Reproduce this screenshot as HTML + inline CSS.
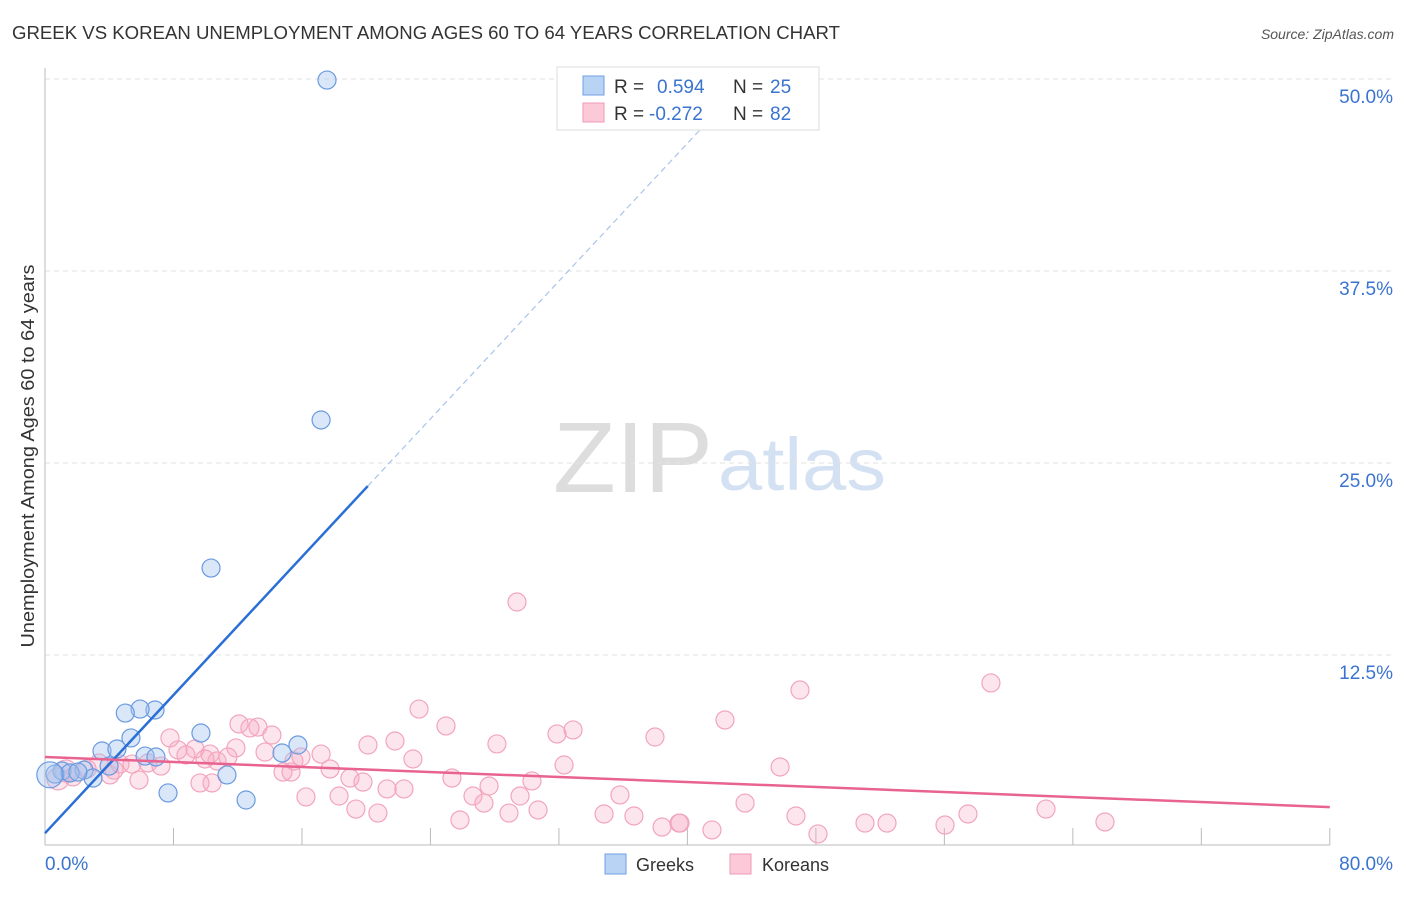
<!DOCTYPE html>
<html><head><meta charset="utf-8"><style>
body{margin:0;background:#fff;font-family:"Liberation Sans",sans-serif}
svg text{font-family:"Liberation Sans",sans-serif}
</style></head><body>
<svg id="c" width="1406" height="892">
<text x="12" y="39" font-size="18" fill="#333" textLength="828" lengthAdjust="spacingAndGlyphs">GREEK VS KOREAN UNEMPLOYMENT AMONG AGES 60 TO 64 YEARS CORRELATION CHART</text>
<text x="1394" y="39" font-size="14" fill="#555" font-style="italic" text-anchor="end">Source: ZipAtlas.com</text>
<text x="34" y="456" font-size="18" fill="#333" text-anchor="middle" textLength="383" lengthAdjust="spacingAndGlyphs" transform="rotate(-90 34 456)">Unemployment Among Ages 60 to 64 years</text>
<text x="553" y="492" font-size="100" fill="#ddd" font-family="Liberation Serif" textLength="160" lengthAdjust="spacingAndGlyphs">ZIP</text>
<text x="718" y="490" font-size="74" fill="#d4e1f3" textLength="168" lengthAdjust="spacingAndGlyphs">atlas</text>
<g id="grid"></g><g id="pts"></g><g id="lines"></g>
<g>
<rect x="557" y="67" width="262" height="63" fill="#fff" stroke="#ddd"/>
<rect x="583" y="76" width="21" height="19" fill="#b9d3f5" stroke="#6f9fe0"/>
<rect x="583" y="103" width="21" height="19" fill="#fcc9d8" stroke="#f09ab4"/>
<text x="614" y="93" font-size="19" fill="#333">R = </text><text x="657" y="93" font-size="19" fill="#3a74d0">0.594</text>
<text x="733" y="93" font-size="19" fill="#333">N = </text><text x="770" y="93" font-size="19" fill="#3a74d0">25</text>
<text x="614" y="120" font-size="19" fill="#333">R = </text><text x="649" y="120" font-size="19" fill="#3a74d0">-0.272</text>
<text x="733" y="120" font-size="19" fill="#333">N = </text><text x="770" y="120" font-size="19" fill="#3a74d0">82</text>
</g>
<g>
<rect x="605" y="854" width="21" height="20" fill="#b9d3f5" stroke="#6f9fe0"/>
<text x="636" y="871" font-size="18" fill="#333">Greeks</text>
<rect x="730" y="854" width="21" height="20" fill="#fcc9d8" stroke="#f09ab4"/>
<text x="762" y="871" font-size="18" fill="#333">Koreans</text>
</g>
</svg>
<script>
const yTicks=[12.5,25,37.5,50];
const yTickLabels=["12.5%","25.0%","37.5%","50.0%"];
const xTickLabels=["0.0%","80.0%"];
const greekX=[17.56,17.19,10.34,6.85,5.92,5.0,9.71,5.35,3.55,4.48,6.23,6.91,15.75,14.76,11.33,3.99,2.43,2.99,1.06,0.62,1.56,7.66,12.52,0.3,2.05];
const greekY=[49.93,27.8,18.16,8.92,8.98,8.72,7.42,7.1,6.25,6.38,5.92,5.86,6.64,6.12,4.69,5.27,5.01,4.49,4.95,4.75,4.82,3.52,3.06,4.7,4.88];
const koreanPx=[[517,602],[991,683],[800,690],[419,709],[725,720],[446,726],[573,730],[557,734],[239,724],[258,727],[250,728],[272,735],[655,737],[170,738],[395,741],[497,744],[368,745],[236,748],[178,750],[195,749],[265,752],[210,754],[217,761],[294,761],[413,759],[564,765],[780,767],[330,769],[283,772],[291,772],[452,778],[350,778],[363,782],[404,789],[387,789],[532,781],[489,786],[473,796],[520,796],[620,795],[745,803],[1046,809],[356,809],[306,797],[339,796],[484,803],[538,810],[378,813],[604,814],[634,816],[796,816],[968,814],[460,820],[509,813],[680,823],[712,830],[818,834],[865,823],[887,823],[945,825],[1105,822],[662,827],[679,823],[212,783],[139,780],[110,775],[120,764],[99,763],[132,764],[148,763],[161,766],[87,769],[73,777],[58,779],[66,771],[114,770],[186,755],[228,757],[205,759],[301,757],[321,754],[200,783]];
const koreanX=koreanPx.map(p=>+((p[0]-45)/16.06).toFixed(2));
const koreanY=koreanPx.map(p=>+((847-p[1])/15.36).toFixed(2));
const greekTrend=[[0,0.9],[20.1,23.5],[42.4,48.5]];
const koreanTrend=[[0,5.86],[80,2.6]];
const sx=v=>45+v*16.06, sy=v=>847-v*15.36;
const NS="http://www.w3.org/2000/svg";
function mk(t,a,p){const e=document.createElementNS(NS,t);for(const k in a)e.setAttribute(k,a[k]);p.appendChild(e);return e;}
const grid=document.getElementById('grid');
yTicks.forEach((t,i)=>{
 const l=mk('line',{x1:45,x2:1395,y1:sy(t),y2:sy(t),stroke:'#e2e2e2','stroke-dasharray':'5,4'},grid);
 
 
 const tx=mk('text',{x:1393,y:sy(t)+24,'font-size':19,fill:'#3a74d0','text-anchor':'end'},grid);tx.textContent=yTickLabels[i];
 
 
});
mk('line',{x1:45,x2:45,y1:68,y2:845,stroke:'#bbb'},grid);
mk('line',{x1:45,x2:1330,y1:845,y2:845,stroke:'#bbb'},grid);
for(let i=1;i<=10;i++){mk('line',{x1:sx(i*8),x2:sx(i*8),y1:828,y2:845,stroke:'#bbb'},grid);}
[[0,'start',45],[1,'end',1393]].forEach(([i,a,x])=>{const t=mk('text',{x:x,y:870,'font-size':19,fill:'#3a74d0','text-anchor':a},grid);t.textContent=xTickLabels[i];
 
 });
const pts=document.getElementById('pts');
koreanX.forEach((x,i)=>{const c=mk('circle',{cx:sx(x),cy:sy(koreanY[i]),r:x<1.5?11:9,fill:'rgba(248,170,195,0.3)',stroke:'#f2a5bc','stroke-width':1.2},pts);
 
 });
greekX.forEach((x,i)=>{const c=mk('circle',{cx:sx(x),cy:sy(greekY[i]),r:i==23?13:9,fill:'rgba(160,196,240,0.4)',stroke:'#6a9ae0','stroke-width':1.2},pts);
 
 });
const lines=document.getElementById('lines');
const g1=mk('line',{x1:sx(greekTrend[0][0]),y1:sy(greekTrend[0][1]),x2:sx(greekTrend[1][0]),y2:sy(greekTrend[1][1]),stroke:'#2a6fd6','stroke-width':2.5},lines);


const g2=mk('line',{x1:sx(greekTrend[1][0]),y1:sy(greekTrend[1][1]),x2:sx(greekTrend[2][0]),y2:sy(greekTrend[2][1]),stroke:'#a8c4ea','stroke-width':1.2,'stroke-dasharray':'6,4'},lines);


const k1=mk('line',{x1:sx(koreanTrend[0][0]),y1:sy(koreanTrend[0][1]),x2:sx(koreanTrend[1][0]),y2:sy(koreanTrend[1][1]),stroke:'#e8638f','stroke-width':2.5},lines);


</script>
</body></html>
